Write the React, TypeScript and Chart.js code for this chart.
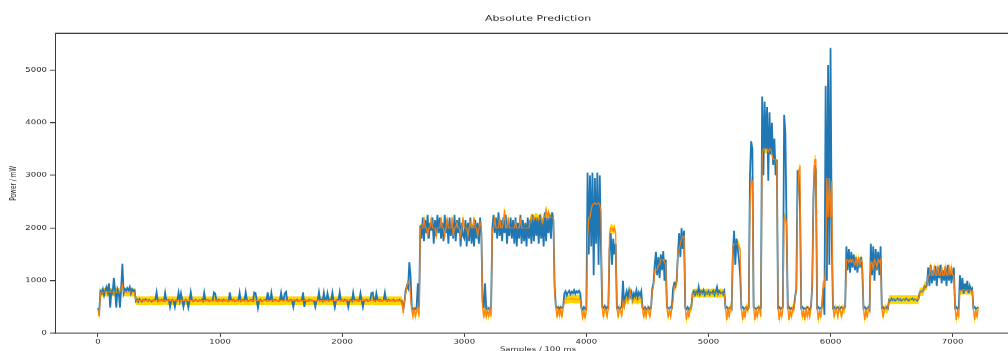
import React, { useEffect, useRef } from 'react';
import { Chart, registerables } from 'chart.js';

Chart.register(...registerables);

const TITLE = 'Absolute Prediction';
const X_LABEL = 'Samples / 100 ms';
const Y_LABEL = 'Power / mW';

// one reading every 10 samples (sample index = position * SAMPLE_STEP)
const SAMPLE_STEP = 10;
const X_TICKS = [0, 1000, 2000, 3000, 4000, 5000, 6000, 7000];
const Y_TICKS = [0, 1000, 2000, 3000, 4000, 5000];
const X_MIN = -352;
const X_MAX = 7560;
const Y_MIN = 0;
const Y_MAX = 5700;
// half width of the yellow tolerance band around the prediction (mW)
const BAND_HALF = 82;

// measured power (blue)
const measured = [
  480, 400, 800, 760, 840, 720, 820, 880, 780, 950, 490, 800, 760, 1050, 820, 490, 840, 780, 490, 860,
  1320, 760, 840, 800, 860, 820, 880, 760, 840, 800, 820, 610, 640, 600, 650, 620, 600, 640, 620, 650,
  630, 610, 640, 620, 600, 630, 620, 640, 780, 610, 630, 620, 640, 620, 610, 770, 620, 630, 640, 500,
  620, 640, 610, 500, 630, 620, 770, 620, 760, 630, 500, 620, 640, 610, 490, 620, 780, 630, 610, 620,
  640, 620, 610, 630, 620, 640, 610, 770, 620, 630, 640, 610, 620, 630, 620, 780, 760, 620, 610, 640,
  620, 630, 610, 640, 620, 630, 620, 610, 780, 630, 620, 640, 610, 620, 630, 620, 770, 610, 620, 640,
  620, 780, 630, 610, 620, 640, 620, 610, 780, 770, 630, 480, 620, 640, 610, 620, 630, 640, 620, 780,
  620, 630, 770, 610, 620, 640, 630, 620, 610, 620, 770, 630, 620, 760, 790, 620, 610, 630, 640, 620,
  500, 630, 620, 640, 610, 620, 630, 620, 780, 500, 630, 620, 610, 640, 620, 630, 620, 610, 500, 620,
  630, 780, 620, 640, 610, 770, 620, 630, 760, 620, 640, 630, 770, 610, 490, 620, 640, 630, 780, 620,
  630, 610, 640, 620, 630, 500, 620, 640, 610, 770, 620, 630, 640, 610, 620, 760, 620, 500, 630, 620,
  640, 610, 620, 630, 770, 780, 620, 610, 760, 630, 620, 640, 610, 620, 630, 770, 620, 610, 640, 620,
  630, 620, 640, 610, 620, 630, 620, 640, 610, 620, 450, 600, 820, 900, 850, 1350, 1100, 500, 450, 480,
  460, 500, 950, 480, 2050, 1800, 2200, 1750, 2150, 1900, 2250, 1800, 2100, 1950, 2200, 1700, 2150, 1850, 2250, 1900,
  2200, 1800, 2100, 1750, 2250, 1900, 2150, 1700, 2200, 1850, 2100, 1800, 2250, 1750, 2150, 1900, 2200, 1650, 2100, 1850,
  1800, 2150, 1650, 2100, 1750, 2200, 1700, 2050, 1650, 2150, 1800, 2100, 1700, 2200, 1900, 600, 480, 950, 470, 450,
  480, 450, 500, 2000, 2250, 1900, 2200, 1800, 2300, 1850, 2150, 1750, 2200, 1900, 2250, 1700, 2100, 1850, 2200, 1800,
  2150, 1700, 2200, 1650, 2100, 1800, 2250, 1700, 2150, 1750, 2100, 1650, 2200, 1800, 2150, 1700, 2250, 1750, 2200, 1850,
  2200, 1700, 2250, 1800, 2150, 1650, 2300, 1750, 2200, 1900, 2250, 1800, 2300, 2150, 900, 520, 480, 500, 460, 500,
  480, 500, 760, 800, 720, 780, 810, 740, 790, 760, 820, 750, 800, 770, 810, 760, 480, 450, 500, 460,
  450, 3050, 1500, 3000, 1650, 3050, 1100, 2950, 1700, 3050, 1300, 3000, 1600, 500, 480, 520, 460, 500, 480, 1600,
  1900, 1300, 1800, 1500, 1700, 480, 500, 460, 480, 500, 1000, 520, 700, 800, 680, 820, 700, 780, 650, 760,
  700, 820, 680, 780, 720, 800, 480, 460, 500, 450, 480, 500, 460, 480, 850, 950, 1300, 1550, 1100, 1450,
  1050, 1500, 1200, 1560, 1000, 1400, 500, 480, 460, 500, 480, 850, 950, 900, 1000, 1500, 1900, 1450, 2000, 1600,
  1950, 480, 460, 500, 450, 480, 500, 760, 800, 730, 790, 750, 880, 740, 800, 760, 820, 730, 780, 750,
  800, 740, 780, 760, 810, 730, 790, 880, 750, 800, 760, 780, 740, 800, 480, 500, 460, 480, 500, 470,
  1500, 1950, 1300, 1800, 1600, 1400, 1100, 480, 500, 460, 480, 500, 450, 480, 3000, 3650, 3500, 500, 480, 460,
  480, 500, 460, 480, 4500, 3000, 4400, 3500, 4300, 2900, 4200, 3400, 4000, 3200, 3700, 3000, 3300, 480, 500, 460,
  480, 500, 4150, 3800, 2000, 480, 500, 460, 480, 450, 500, 700, 850, 3100, 3000, 2400, 480, 500, 460, 480,
  460, 500, 480, 450, 500, 900, 2600, 3200, 3100, 480, 500, 460, 480, 500, 850, 350, 4700, 1000, 5100, 1300,
  5420, 1800, 480, 500, 460, 480, 500, 450, 480, 500, 460, 480, 500, 1650, 1200, 1600, 1150, 1550, 1250, 1500,
  1200, 1450, 1150, 1400, 1250, 1450, 1200, 480, 500, 460, 480, 500, 450, 1700, 1100, 1650, 1000, 1600, 1200, 1550,
  1100, 1650, 480, 500, 460, 480, 500, 470, 640, 620, 660, 630, 650, 620, 640, 660, 630, 650, 620, 640,
  650, 630, 660, 640, 620, 650, 640, 660, 630, 650, 640, 620, 650, 780, 800, 790, 810, 900, 880, 920,
  1250, 900, 1300, 950, 1200, 1000, 1280, 900, 1250, 1050, 1300, 950, 1200, 1000, 1250, 900, 1300, 1000, 1200, 950,
  1150, 1250, 480, 500, 460, 480, 1100, 800, 1050, 750, 950, 800, 1000, 760, 900, 820, 850, 480, 500, 460,
  480, 500,
];

// predicted power (orange)
const predicted = [
  450, 330, 760, 780, 780, 780, 790, 780, 780, 790, 780, 780, 780, 790, 780, 780, 780, 780, 790, 820,
  920, 800, 780, 790, 780, 780, 790, 780, 780, 780, 780, 630, 620, 620, 620, 620, 620, 620, 620, 620,
  620, 620, 620, 630, 620, 620, 620, 620, 620, 620, 620, 620, 620, 620, 620, 630, 620, 620, 620, 620,
  620, 620, 620, 620, 620, 620, 620, 620, 630, 620, 620, 620, 620, 620, 620, 620, 620, 620, 620, 620,
  620, 620, 620, 620, 620, 620, 620, 630, 620, 620, 620, 620, 620, 620, 620, 620, 620, 620, 620, 620,
  620, 620, 620, 620, 620, 620, 620, 620, 620, 620, 620, 620, 620, 620, 620, 620, 630, 620, 620, 620,
  620, 620, 620, 620, 620, 620, 620, 620, 630, 620, 620, 620, 620, 620, 620, 620, 620, 620, 620, 620,
  620, 620, 620, 620, 620, 620, 620, 620, 620, 620, 620, 620, 620, 620, 630, 620, 620, 620, 620, 620,
  620, 620, 620, 620, 620, 620, 620, 620, 620, 620, 620, 620, 620, 620, 620, 620, 620, 620, 620, 620,
  620, 620, 620, 620, 620, 630, 620, 620, 620, 620, 620, 620, 620, 620, 620, 620, 620, 620, 620, 620,
  620, 620, 620, 620, 620, 620, 620, 620, 620, 620, 620, 620, 620, 620, 620, 620, 620, 620, 620, 620,
  620, 620, 620, 620, 620, 630, 620, 620, 620, 620, 620, 620, 620, 620, 620, 620, 620, 620, 620, 620,
  620, 620, 620, 620, 620, 620, 620, 620, 620, 620, 380, 600, 750, 900, 950, 1000, 700, 450, 320, 480,
  300, 450, 470, 320, 2000, 2000, 2000, 2200, 2000, 2000, 1850, 2000, 2000, 2200, 2000, 2000, 2000, 1850, 2000, 2000,
  2000, 2200, 2000, 2000, 1850, 2000, 2200, 2000, 2000, 2000, 2200, 1850, 2000, 2000, 2100, 2000, 2000, 1850, 2000, 2200,
  2000, 2000, 2000, 1850, 2000, 2100, 2000, 2000, 2200, 2000, 2000, 1850, 2000, 2100, 2000, 500, 300, 480, 320, 460,
  300, 480, 320, 2000, 2000, 2200, 2000, 2000, 2000, 2200, 2000, 2000, 2100, 2350, 2000, 2000, 2200, 2000, 2000, 2000,
  2000, 2000, 2100, 2000, 2000, 2000, 2200, 2000, 2000, 2000, 2000, 2000, 2000, 2000, 2150, 2200, 2200, 2150, 2200, 2200,
  2200, 2150, 2200, 2200, 2100, 2200, 2200, 2350, 2200, 2300, 2200, 2200, 2200, 2200, 800, 500, 300, 480, 320, 480,
  300, 480, 640, 650, 650, 650, 650, 650, 660, 650, 650, 650, 650, 650, 650, 650, 450, 300, 450, 280,
  450, 1800, 2200, 2200, 2350, 2450, 2450, 2480, 2450, 2450, 2480, 2450, 2300, 500, 300, 480, 450, 320, 480, 1900,
  2000, 2000, 1950, 2000, 1900, 500, 300, 480, 450, 320, 600, 500, 650, 650, 620, 650, 800, 650, 620, 650,
  650, 650, 620, 650, 660, 650, 480, 300, 450, 320, 480, 450, 300, 480, 800, 900, 1200, 1200, 1200, 1300,
  1300, 1400, 1400, 1400, 1350, 1300, 480, 300, 450, 320, 480, 600, 900, 900, 950, 1550, 1600, 1700, 1800, 1850,
  1850, 480, 250, 450, 300, 480, 460, 760, 760, 760, 770, 760, 760, 760, 770, 760, 760, 760, 760, 770,
  760, 760, 760, 770, 760, 760, 760, 760, 760, 760, 770, 760, 760, 760, 500, 250, 480, 300, 500, 450,
  1650, 1700, 1700, 1700, 1700, 1650, 1600, 480, 250, 450, 300, 500, 460, 480, 2500, 2900, 2900, 500, 250, 450,
  300, 480, 450, 320, 3400, 3500, 3500, 3500, 3500, 3450, 3500, 3500, 3400, 3300, 3300, 3300, 3200, 480, 250, 450,
  300, 480, 2200, 2200, 2100, 480, 250, 450, 300, 480, 450, 650, 850, 2500, 3100, 3150, 480, 300, 450, 250,
  480, 300, 450, 320, 480, 950, 2500, 3300, 3300, 480, 250, 450, 300, 480, 950, 900, 1300, 2950, 2200, 2950,
  2200, 2900, 500, 300, 480, 450, 320, 480, 450, 300, 480, 450, 480, 1400, 1400, 1350, 1400, 1350, 1400, 1350,
  1300, 1450, 1260, 1450, 1300, 1400, 1350, 480, 250, 450, 300, 480, 450, 1350, 1350, 1200, 1400, 1350, 1250, 1400,
  1350, 1400, 480, 300, 450, 480, 450, 480, 640, 640, 640, 640, 640, 640, 640, 640, 640, 640, 640, 640,
  640, 640, 640, 640, 640, 640, 640, 640, 640, 640, 640, 640, 640, 780, 790, 790, 790, 900, 900, 900,
  1100, 1100, 1280, 1100, 1100, 1250, 1100, 1100, 1280, 1100, 1100, 1250, 1100, 1100, 1280, 1100, 1100, 1250, 1100, 1280,
  1100, 1100, 480, 250, 450, 300, 820, 820, 820, 820, 830, 820, 820, 820, 820, 820, 820, 480, 250, 450,
  300, 480,
];

const AXIS_COLOR = '#3a3a3a';
const TEXT_COLOR = '#262626';
const FONT = "'DejaVu Sans', sans-serif";

const CANVAS_W = 1030;
const CANVAS_H = 520;
const SQUASH = 0.69;

const topSpine = {
  id: 'topSpine',
  afterDraw(chart: any) {
    const { ctx, chartArea } = chart;
    ctx.save();
    ctx.strokeStyle = AXIS_COLOR;
    ctx.lineWidth = 1.4;
    ctx.beginPath();
    ctx.moveTo(chartArea.left, chartArea.top);
    ctx.lineTo(chartArea.right, chartArea.top);
    ctx.stroke();
    ctx.restore();
  },
};

export default function App() {
  const ref = useRef<HTMLCanvasElement | null>(null);

  useEffect(() => {
    if (!ref.current) return;
    const pts = (arr: number[]) => arr.map((y, i) => ({ x: i * SAMPLE_STEP, y }));
    const chart = new Chart(ref.current, {
      type: 'line',
      data: {
        datasets: [
          {
            label: 'Prediction',
            data: pts(predicted),
            borderColor: 'rgba(255,127,14,0.92)',
            borderWidth: 1.3,
            pointRadius: 0,
            fill: false,
            order: 0,
          },
          {
            label: 'Measured',
            data: pts(measured),
            borderColor: '#1f77b4',
            borderWidth: 1.8,
            pointRadius: 0,
            fill: false,
            order: 1,
          },
          {
            label: 'Band upper',
            data: pts(predicted.map((v) => v + BAND_HALF)),
            borderColor: 'rgba(0,0,0,0)',
            borderWidth: 1,
            pointRadius: 0,
            fill: false,
            order: 2,
          },
          {
            label: 'Band lower',
            data: pts(predicted.map((v) => v - BAND_HALF)),
            borderColor: 'rgba(0,0,0,0)',
            backgroundColor: '#ffd500',
            borderWidth: 1,
            pointRadius: 0,
            fill: '-1',
            order: 3,
          },
        ],
      },
      options: {
        animation: false,
        responsive: false,
        maintainAspectRatio: false,
        devicePixelRatio: 1,
        parsing: false,
        normalized: true,
        events: [],
        layout: { padding: { left: 0, right: 9, top: 0, bottom: 0 } },
        elements: { line: { tension: 0 } },
        plugins: {
          legend: { display: false },
          tooltip: { enabled: false },
          title: {
            display: true,
            text: TITLE,
            fullSize: false,
            color: TEXT_COLOR,
            font: { family: FONT, size: 11, weight: 'normal' },
            padding: { top: 21, bottom: 14 },
          },
        },
        scales: {
          x: {
            type: 'linear',
            min: X_MIN,
            max: X_MAX,
            afterBuildTicks: (axis: any) => {
              axis.ticks = X_TICKS.map((v) => ({ value: v }));
            },
            afterFit: (axis: any) => {
              axis.height = 37;
            },
            ticks: {
              color: TEXT_COLOR,
              font: { family: FONT, size: 8.5 },
              padding: 3,
              maxRotation: 0,
              autoSkip: false,
              callback: (v: any) => String(v),
            },
            grid: {
              display: true,
              drawOnChartArea: false,
              drawTicks: true,
              tickLength: 5,
              color: AXIS_COLOR,
              lineWidth: 1,
            },
            border: { display: true, color: AXIS_COLOR, width: 1.4 },
            title: {
              display: true,
              text: X_LABEL,
              color: TEXT_COLOR,
              font: { family: FONT, size: 8.5 },
              padding: { top: 0, bottom: 8 },
            },
          },
          y: {
            type: 'linear',
            min: Y_MIN,
            max: Y_MAX,
            afterBuildTicks: (axis: any) => {
              axis.ticks = Y_TICKS.map((v) => ({ value: v }));
            },
            afterFit: (axis: any) => {
              axis.width = 55;
            },
            ticks: {
              color: TEXT_COLOR,
              font: { family: FONT, size: 8.5 },
              padding: 3,
              autoSkip: false,
              callback: (v: any) => String(v),
            },
            grid: {
              display: true,
              drawOnChartArea: false,
              drawTicks: true,
              tickLength: 5,
              color: AXIS_COLOR,
              lineWidth: 1.4,
            },
            border: { display: true, color: AXIS_COLOR, width: 1 },
            title: {
              display: true,
              text: Y_LABEL,
              color: TEXT_COLOR,
              font: { family: FONT, size: 8.5 },
              padding: { top: 9, bottom: 0 },
            },
          },
        },
      },
      plugins: [topSpine],
    } as any);
    return () => chart.destroy();
  }, []);

  return (
    <div
      style={{
        position: 'fixed',
        left: 0,
        top: 0,
        width: 1008,
        height: 351,
        overflow: 'hidden',
        background: '#ffffff',
      }}
    >
      <div
        style={{
          width: CANVAS_W,
          height: CANVAS_H,
          transform: `scaleY(${SQUASH})`,
          transformOrigin: '0 0',
        }}
      >
        <canvas
          ref={ref}
          width={CANVAS_W}
          height={CANVAS_H}
          style={{ display: 'block', width: CANVAS_W, height: CANVAS_H }}
        />
      </div>
    </div>
  );
}
